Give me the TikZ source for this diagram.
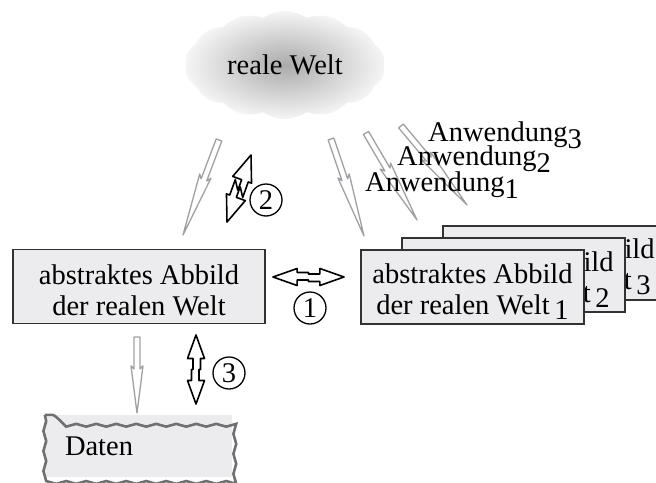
\documentclass[tikz,border=0pt]{standalone}
\usepackage{fontspec}
\setmainfont{Liberation Serif}
\usetikzlibrary{calc,shapes.symbols,decorations.pathmorphing}
% point at fraction #3 from #1 towards #2, offset #4 sideways
\newcommand\apt[4]{($(#1)!#3!(#2)!#4!90:(#2)$)}
% point at fraction #3 from #2 towards #1, offset #4 sideways (same side as \apt)
\newcommand\bpt[4]{($(#2)!#3!(#1)!#4!-90:(#1)$)}
% single hollow arrow
\newcommand\sarrow[3][]{\draw[#1] \apt{#2}{#3}{0}{3pt} -- \apt{#2}{#3}{0.42}{3pt} -- \apt{#2}{#3}{0.38}{6pt} -- (#3) -- \apt{#2}{#3}{0.38}{-6pt} -- \apt{#2}{#3}{0.42}{-3pt} -- \apt{#2}{#3}{0}{-3pt} -- cycle;}
% double hollow arrow with a small jog
\newcommand\darrow[3][]{\draw[#1] (#2) -- \apt{#2}{#3}{0.34}{8.5pt} -- \apt{#2}{#3}{0.34}{4.5pt} -- \apt{#2}{#3}{0.5}{4.5pt} -- \apt{#2}{#3}{0.5}{3pt} -- \bpt{#2}{#3}{0.34}{3pt} -- \bpt{#2}{#3}{0.34}{8.5pt} -- (#3) -- \bpt{#2}{#3}{0.34}{-8.5pt} -- \bpt{#2}{#3}{0.34}{-4.5pt} -- \apt{#2}{#3}{0.5}{-4.5pt} -- \apt{#2}{#3}{0.5}{-3pt} -- \apt{#2}{#3}{0.34}{-3pt} -- \apt{#2}{#3}{0.34}{-8.5pt} -- cycle;}
% double lightning arrow
\newcommand\larrow[3][]{\draw[#1] (#2) -- \apt{#2}{#3}{0.37}{10pt} -- \apt{#2}{#3}{0.37}{6.5pt} -- \apt{#2}{#3}{0.6}{6.5pt} -- \apt{#2}{#3}{0.47}{0.5pt} -- \bpt{#2}{#3}{0.37}{0.5pt} -- \bpt{#2}{#3}{0.37}{10pt} -- (#3) -- \bpt{#2}{#3}{0.37}{-10pt} -- \bpt{#2}{#3}{0.37}{-6.5pt} -- \apt{#2}{#3}{0.4}{-6.5pt} -- \apt{#2}{#3}{0.53}{-0.5pt} -- \apt{#2}{#3}{0.37}{-0.5pt} -- \apt{#2}{#3}{0.37}{-10pt} -- cycle;}
\definecolor{boxfill}{RGB}{236,236,238}
\definecolor{boxline}{RGB}{50,50,50}
\definecolor{arrgray}{RGB}{160,160,164}
\definecolor{datline}{RGB}{112,112,114}
\newcommand\topstrut{\rule{0pt}{28pt}}
\begin{document}
\begin{tikzpicture}[x=1pt,y=-1pt,
  txt/.style={font=\fontsize{28.5}{31}\selectfont},
  box/.style={txt,draw=boxline,line width=1.5pt,fill=boxfill,align=center,inner sep=0pt,minimum height=74pt},
  circ/.style={txt,draw,circle,line width=1.3pt,minimum size=32pt,inner sep=0pt},
  garr/.style={draw=arrgray,line width=1.3pt,line join=round},
  barr/.style={draw=black,line width=1.6pt,line join=round,fill=white},
  lbl/.style={txt,anchor=base west,inner sep=0pt}]
\useasboundingbox (0,0) rectangle (656,482);
\clip (0,0) rectangle (656,482);
% cloud
\node[cloud,cloud puffs=14,cloud puff arc=70,cloud ignores aspect,minimum width=200pt,minimum height=108pt,inner sep=0pt,
      shading=radial,inner color=black!33,outer color=black!4,txt] (welt) at (285,65) {reale Welt};
% coordinates for arrows
\coordinate (g0a) at (219,140); \coordinate (g0b) at (183,235);
\coordinate (g1a) at (331,139); \coordinate (g1b) at (364,236);
\coordinate (g2a) at (366,133); \coordinate (g2b) at (417,220);
\coordinate (g3a) at (401,126); \coordinate (g3b) at (467,205);
\coordinate (g4a) at (137,337); \coordinate (g4b) at (137,413);
\coordinate (l2a) at (251,155); \coordinate (l2b) at (227,222);
\coordinate (d1a) at (273,277); \coordinate (d1b) at (344,277);
\coordinate (d3a) at (196,335); \coordinate (d3b) at (196,404);
% gray arrows
\sarrow[garr]{g0a}{g0b}
\sarrow[garr]{g1a}{g1b}
\sarrow[garr]{g2a}{g2b}
\sarrow[garr]{g3a}{g3b}
\sarrow[garr]{g4a}{g4b}
% labels
\node[lbl] (an1) at (365,191) {Anwendung\raisebox{-7pt}{1}};
\node[lbl] (an2) at (397,165) {Anwendung\raisebox{-7pt}{2}};
\node[lbl] (an3) at (428,141) {Anwendung\raisebox{-7pt}{3}};
% boxes
\node[box,minimum width=252pt] (left) at (139,286.5) {\topstrut abstraktes Abbild\\der realen Welt};
\node[box,minimum width=223pt] (w3) at (554.5,263) {\topstrut abstraktes Abbild\\der realen Welt\,\raisebox{-5pt}{3}};
\node[box,minimum width=223pt] (w2) at (513.5,275) {\topstrut abstraktes Abbild\\der realen Welt\,\raisebox{-5pt}{2}};
\node[box,minimum width=223pt] (w1) at (472.5,287) {\topstrut abstraktes Abbild\\der realen Welt\,\raisebox{-5pt}{1}};
% black arrows
\larrow[barr]{l2a}{l2b}
\darrow[barr]{d1a}{d1b}
\darrow[barr]{d3a}{d3b}
\node[circ] (c1) at (310,308) {1};
\node[circ] (c2) at (266,200) {2};
\node[circ] (c3) at (229,373) {3};
% data
\node[txt,fill=boxfill,text width=147pt,inner xsep=20pt,inner ysep=0pt,minimum height=62pt,align=left] (daten) at (138.5,446) {Daten};
\draw[draw=datline,line width=2.6pt,decorate,decoration={snake,segment length=20pt,amplitude=1.4pt}]
  (daten.north west) rectangle (daten.south east);
\end{tikzpicture}
\end{document}
